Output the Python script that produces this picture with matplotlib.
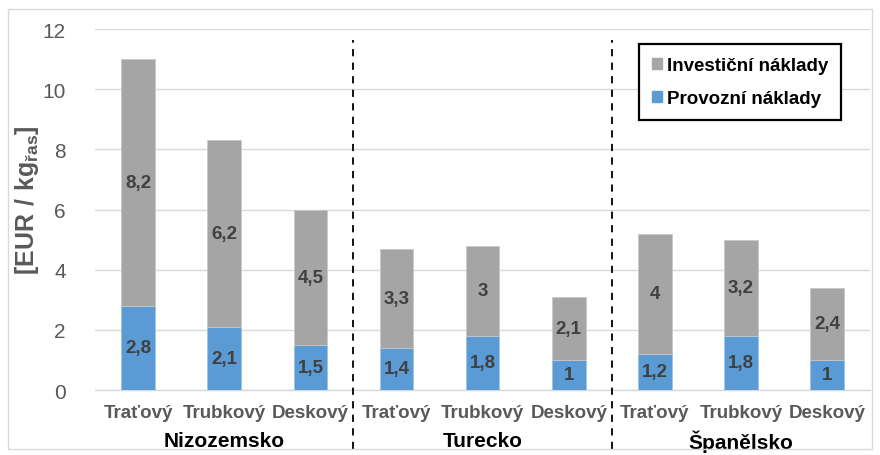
import numpy as np
import matplotlib.pyplot as plt
from matplotlib.patches import Patch, Rectangle

plt.rcParams['font.family'] = ['Liberation Sans', 'DejaVu Sans']
plt.rcParams['mathtext.fontset'] = 'custom'
plt.rcParams['mathtext.rm'] = 'Liberation Sans'
plt.rcParams['mathtext.bf'] = 'Liberation Sans:bold'

# data
groups = ["Nizozemsko", "Turecko", "Španělsko"]
types = ["Traťový", "Trubkový", "Deskový"]
provozni = [2.8, 2.1, 1.5, 1.4, 1.8, 1, 1.2, 1.8, 1]
investicni = [8.2, 6.2, 4.5, 3.3, 3, 2.1, 4, 3.2, 2.4]
yticks = [0, 2, 4, 6, 8, 10, 12]

BLUE = "#5B9BD5"
GRAY = "#A5A5A5"

def fmt(v):
    return ("%g" % v).replace(".", ",")

fig = plt.figure(figsize=(8.8, 4.56), dpi=100)
fig.patches.append(Rectangle((0.009, 0.013), 0.982, 0.965, transform=fig.transFigure,
                             fill=False, edgecolor="#D9D9D9", linewidth=1))
ax = fig.add_axes([0.108, 0.1425, 0.881, 0.7915])

x = np.arange(len(provozni))
labels = types * len(groups)
ax.bar(x, provozni, width=0.39, color=BLUE, edgecolor="#9DC3E6", linewidth=0.6, zorder=3)
ax.bar(x, investicni, width=0.39, bottom=provozni, color=GRAY, edgecolor="#C8C8C8",
       linewidth=0.6, zorder=3)

for xi, p, i in zip(x, provozni, investicni):
    ax.text(xi, p / 2, fmt(p), ha="center", va="center", fontsize=13.5, fontweight="bold",
            color="#404040", zorder=4)
    ax.text(xi, p + i / 2, fmt(i), ha="center", va="center", fontsize=13.5, fontweight="bold",
            color="#404040", zorder=4)

ax.set_xlim(-0.5, len(x) - 0.5)
ax.set_ylim(0, 12)
ax.set_yticks(yticks)
ax.set_yticklabels([str(t) for t in yticks], fontsize=15, color="#595959")
ax.set_xticks(x)
ax.set_xticklabels(labels, fontsize=13.5, fontweight="bold", color="#595959")
ax.tick_params(axis="both", length=0)
ax.tick_params(axis="y", pad=21)
ax.tick_params(axis="x", pad=10)
ax.grid(axis="y", color="#D9D9D9", linewidth=1, zorder=0)
for s in ["top", "right", "left"]:
    ax.spines[s].set_visible(False)
ax.spines["bottom"].set_color("#D9D9D9")
ax.spines["bottom"].set_linewidth(1)

n = len(types)
for gi, g in enumerate(groups):
    ax.text(gi * n + (n - 1) / 2, -1.68, g, ha="center", va="center", fontsize=15,
            fontweight="bold", color="black")
    if gi > 0:
        ax.plot([gi * n - 0.5, gi * n - 0.5], [-1.95, 11.65], color="black", linewidth=1.3,
                linestyle=(0, (4, 3.5)), clip_on=False, zorder=5)

ax.set_ylabel(r"$\mathbf{[EUR\ /\ kg}_{\mathbf{řas}}\mathbf{]}$", fontsize=18, color="#595959")
ax.yaxis.set_label_coords(-0.07, 0.53)

handles = [Patch(facecolor=GRAY, edgecolor=GRAY), Patch(facecolor=BLUE, edgecolor=BLUE)]
leg = ax.legend(handles, ["Investiční náklady", "Provozní náklady"], loc="upper right",
                bbox_to_anchor=(0.97, 0.975), prop={"weight": "bold", "size": 13.5},
                handlelength=0.55, handleheight=0.55, handletextpad=0.25, labelspacing=0.85,
                borderpad=0.7, borderaxespad=0.3, fancybox=False, framealpha=1)
leg.get_frame().set_edgecolor("black")
leg.get_frame().set_linewidth(1.6)
leg.set_zorder(6)

fig.savefig("out.png", dpi=100)
